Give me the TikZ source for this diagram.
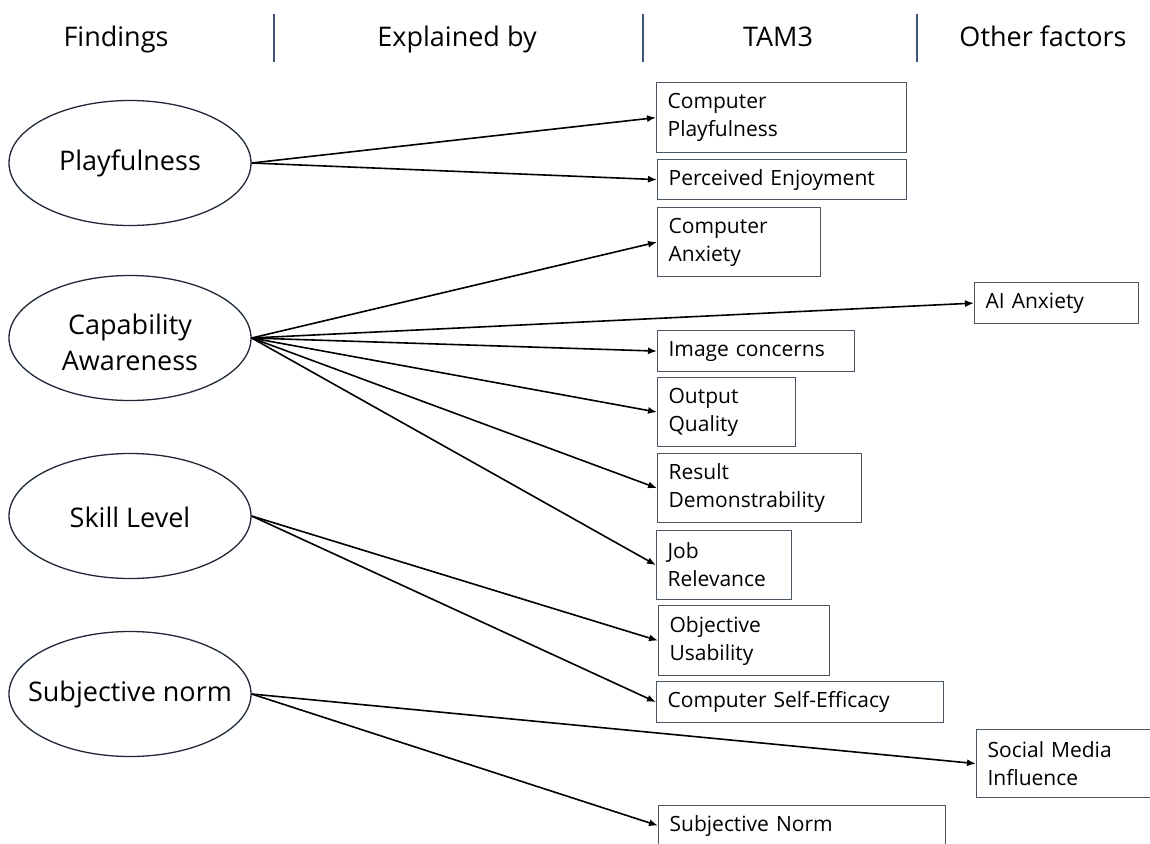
\documentclass[tikz,border=0pt]{standalone}
\usepackage{fontspec}
\setmainfont{Open Sans}
\usetikzlibrary{shapes.geometric,arrows.meta}
\definecolor{ellcol}{RGB}{30,40,55}
\definecolor{boxcol}{RGB}{75,85,100}
\definecolor{sepcol}{RGB}{60,85,120}
\tikzset{
  ell/.style={ellipse, draw=ellcol, line width=1.3pt, minimum width=242pt, minimum height=125pt, inner sep=0pt},
  elltext/.style={inner sep=0pt, align=center, font=\fontsize{27}{36}\selectfont},
  box/.style={rectangle, draw=boxcol, line width=1.2pt, anchor=north west, inner xsep=11pt, inner ysep=0pt, align=left, font=\fontsize{21}{28}\selectfont},
  arr/.style={-{Latex[length=9pt,width=7pt]}, line width=1.6pt, black},
  hdr/.style={font=\fontsize{27}{32}\selectfont, anchor=base},
  sep/.style={draw=sepcol, line width=1.3pt}
}
\begin{document}
\begin{tikzpicture}[x=1pt,y=-1pt]
\useasboundingbox (0,0) rectangle (1150,843);
% header
\node[hdr] (h1) at (116,47) {Findings};
\node[hdr] (h2) at (457,47) {Explained by};
\node[hdr] (h3) at (778,47) {TAM3};
\node[hdr] (h4) at (1043,47) {Other factors};
\draw[sep] (274,14) -- (274,62);
\draw[sep] (643,14) -- (643,62);
\draw[sep] (917,14) -- (917,62);
% ellipses
\node[ell] (play) at (130,163) {};
\node[ell] (cap) at (130,338) {};
\node[ell] (skill) at (130,516) {};
\node[ell] (subj) at (130,694) {};
\node[elltext] (playt) at (130,163) {Playfulness};
\node[elltext] (capt) at (130,342) {Capability\\Awareness};
\node[elltext] (skillt) at (130,517) {Skill Level};
\node[elltext] (subjt) at (130,694) {Subjective norm};
% boxes
\node[box, text width=228pt, minimum height=70pt] (cp) at (656,82) {Computer\\Playfulness};
\node[box, text width=227pt, minimum height=40pt] (pe) at (657,159) {Perceived Enjoyment};
\node[box, text width=141pt, minimum height=69pt] (ca) at (657,207) {Computer\\Anxiety};
\node[box, text width=142pt, minimum height=41pt] (ai) at (974,282) {AI Anxiety};
\node[box, text width=175pt, minimum height=41pt] (ic) at (657,330) {Image concerns};
\node[box, text width=116pt, minimum height=69pt] (oq) at (657,377) {Output\\Quality};
\node[box, text width=182pt, minimum height=69pt] (rd) at (657,453) {Result\\Demonstrability};
\node[box, text width=113pt, minimum height=69pt] (jr) at (656,530) {Job\\Relevance};
\node[box, text width=149pt, minimum height=70pt] (ou) at (658,605) {Objective\\Usability};
\node[box, text width=265pt, minimum height=41pt] (cse) at (656,681) {Computer Self-Efficacy};
\node[box, text width=154pt, minimum height=68pt] (smi) at (976,729) {Social Media\\Influence};
\node[box, text width=265pt, minimum height=40pt] (sn) at (658,805) {Subjective Norm};
% arrows
\draw[arr] (play.east) -- (cp.west);
\draw[arr] (play.east) -- (pe.west);
\draw[arr] (cap.east) -- (ca.west);
\draw[arr] (cap.east) -- (ai.west);
\draw[arr] (cap.east) -- (ic.west);
\draw[arr] (cap.east) -- (oq.west);
\draw[arr] (cap.east) -- (rd.west);
\draw[arr] (cap.east) -- (jr.west);
\draw[arr] (skill.east) -- (ou.west);
\draw[arr] (skill.east) -- (cse.west);
\draw[arr] (subj.east) -- (smi.west);
\draw[arr] (subj.east) -- (sn.west);
\end{tikzpicture}
\end{document}
